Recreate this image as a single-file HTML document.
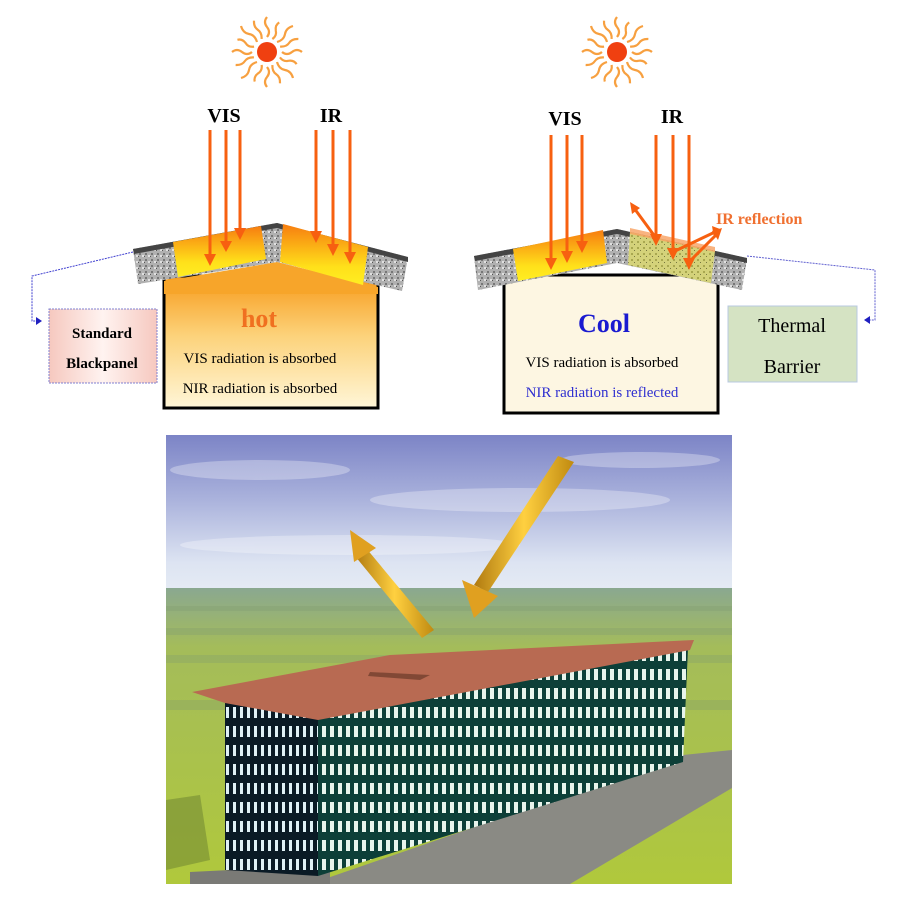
<!DOCTYPE html>
<html><head><meta charset="utf-8"><style>
html,body{margin:0;padding:0;background:#fff;}
svg{display:block;}
text{font-family:"Liberation Serif",serif;}
</style></head><body>
<svg width="900" height="900" viewBox="0 0 900 900" xmlns="http://www.w3.org/2000/svg">
<defs>
<linearGradient id="hotbox" x1="0" y1="0" x2="0" y2="1">
<stop offset="0" stop-color="#f79a1a"/><stop offset="0.45" stop-color="#fcd27a"/><stop offset="1" stop-color="#fff6d8"/></linearGradient>
<linearGradient id="panel" x1="0" y1="0" x2="0" y2="1">
<stop offset="0" stop-color="#f77d10"/><stop offset="0.7" stop-color="#ffe01a"/><stop offset="1" stop-color="#ffee22"/></linearGradient>
<linearGradient id="pink" x1="0" y1="0" x2="1" y2="0">
<stop offset="0" stop-color="#f6c8bf"/><stop offset="0.5" stop-color="#fff3f0"/><stop offset="1" stop-color="#f6c8bf"/></linearGradient>
<pattern id="grav" width="6" height="6" patternUnits="userSpaceOnUse">
<rect width="6" height="6" fill="#b0b0b0"/><rect x="1" y="1" width="2" height="2" fill="#777"/><rect x="4" y="3" width="2" height="2" fill="#e0e0e0"/><rect x="0" y="4" width="1" height="1" fill="#555"/></pattern>
<pattern id="grn" width="6" height="6" patternUnits="userSpaceOnUse">
<rect width="6" height="6" fill="#d4d27a"/><rect x="1" y="1" width="2" height="2" fill="#a9a850"/><rect x="4" y="4" width="1" height="1" fill="#777740"/></pattern>
<linearGradient id="sky" x1="0" y1="0" x2="0" y2="1">
<stop offset="0" stop-color="#7c84c6"/><stop offset="0.4" stop-color="#aab2dc"/><stop offset="0.8" stop-color="#dde4f2"/><stop offset="1" stop-color="#e6ecf4"/></linearGradient>
<linearGradient id="grass" x1="0" y1="0" x2="0" y2="1">
<stop offset="0" stop-color="#8aa890"/><stop offset="0.2" stop-color="#a4bc5a"/><stop offset="1" stop-color="#b0c83c"/></linearGradient>
<pattern id="win" width="8" height="19" patternUnits="userSpaceOnUse">
<rect width="8" height="19" fill="#0d3f38"/><rect x="2" y="4" width="4" height="11" fill="#e8f4ec"/></pattern>
<pattern id="win2" width="7" height="19" patternUnits="userSpaceOnUse">
<rect width="7" height="19" fill="#0a1a25"/><rect x="2" y="4" width="3" height="11" fill="#dff0f5"/></pattern>
<linearGradient id="gold" x1="0" y1="0" x2="1" y2="0">
<stop offset="0" stop-color="#b07a10"/><stop offset="0.5" stop-color="#ffd040"/><stop offset="1" stop-color="#c08a10"/></linearGradient>
<g id="rays" stroke="#f7a040" stroke-width="2.2" fill="none">
<path d="M0,-15 q4,-5 0,-10 q-4,-5 0,-10"/><path d="M0,15 q4,5 0,10 q-4,5 0,10"/>
<path d="M-15,0 q-5,4 -10,0 q-5,-4 -10,0"/><path d="M15,0 q5,4 10,0 q5,-4 10,0"/>
<path d="M10,-10 q7,-2 8,-8 q1,-6 8,-8"/><path d="M-10,10 q-7,2 -8,8 q-1,6 -8,8"/>
<path d="M-10,-10 q-2,-7 -8,-8 q-6,-1 -8,-8"/><path d="M10,10 q2,7 8,8 q6,1 8,8"/>
<g transform="rotate(22.5)">
<path d="M0,-14 q3,-5 0,-9 q-3,-5 0,-9"/><path d="M0,14 q3,5 0,9 q-3,5 0,9"/>
<path d="M-14,0 q-5,3 -9,0 q-5,-3 -9,0"/><path d="M14,0 q5,3 9,0 q5,-3 9,0"/>
<path d="M10,-10 q6,-2 7,-7 q1,-5 7,-7"/><path d="M-10,10 q-6,2 -7,7 q-1,5 -7,7"/>
<path d="M-10,-10 q-2,-6 -7,-7 q-5,-1 -7,-7"/><path d="M10,10 q2,6 7,7 q5,1 7,7"/>
</g></g>
</defs>

<g transform="translate(267,52)"><use href="#rays"/><circle r="10" fill="#f04010"/></g>
<g transform="translate(617,52)"><use href="#rays"/><circle r="10" fill="#f04010"/></g>

<!-- ===== left diagram ===== -->
<rect x="164" y="276" width="214" height="132" fill="url(#hotbox)" stroke="#000" stroke-width="3"/>
<polygon points="164,281 277,262 378,287 378,294 164,294" fill="#f7a52a"/>
<polygon points="133,249 277,223 277,262 138,284" fill="url(#grav)"/>
<polygon points="277,223 408,257 402,291 277,262" fill="url(#grav)"/>
<polygon points="133,249 277,223 277,228 134,254" fill="#444"/>
<polygon points="277,223 408,257 408,262 277,228" fill="#444"/>
<polygon points="173,242 261,226 266,259 178,277" fill="url(#panel)"/>
<polygon points="283,224 368,247 363,285 280,262" fill="url(#panel)"/>
<g stroke="#f76010" stroke-width="3">
<line x1="210" y1="130" x2="210" y2="258"/><line x1="226" y1="130" x2="226" y2="245"/><line x1="240" y1="130" x2="240" y2="232"/>
<line x1="316" y1="130" x2="316" y2="235"/><line x1="333" y1="130" x2="333" y2="248"/><line x1="350" y1="130" x2="350" y2="256"/>
</g>
<g fill="#f76010">
<polygon points="204,254 216,254 210,266"/><polygon points="220,241 232,241 226,252"/><polygon points="234,228 246,228 240,240"/>
<polygon points="310,231 322,231 316,243"/><polygon points="327,244 339,244 333,256"/><polygon points="344,252 356,252 350,264"/>
</g>
<text x="224" y="122" font-size="20" font-weight="bold" text-anchor="middle">VIS</text>
<text x="331" y="122" font-size="20" font-weight="bold" text-anchor="middle">IR</text>
<text x="259" y="327" font-size="26" font-weight="bold" fill="#f07020" text-anchor="middle">hot</text>
<text x="260" y="363" font-size="15" text-anchor="middle">VIS radiation is absorbed</text>
<text x="260" y="393" font-size="15" text-anchor="middle">NIR radiation is absorbed</text>
<polyline points="133,252 32,276 32,321 40,321" fill="none" stroke="#4040d0" stroke-width="1" stroke-dasharray="2,1"/>
<polygon points="36,317 42,321 36,325" fill="#2020c0"/>
<rect x="49" y="309" width="108" height="74" fill="url(#pink)" stroke="#8080d0" stroke-width="1" stroke-dasharray="2,1"/>
<text x="102" y="338" font-size="15" font-weight="bold" text-anchor="middle">Standard</text>
<text x="102" y="368" font-size="15" font-weight="bold" text-anchor="middle">Blackpanel</text>

<!-- ===== right diagram ===== -->
<rect x="504" y="275" width="214" height="138" fill="#fdf6e2" stroke="#000" stroke-width="3"/>
<polygon points="474,256 617,229 617,263 478,290" fill="url(#grav)"/>
<polygon points="617,229 747,258 742,290 617,263" fill="url(#grav)"/>
<polygon points="474,256 617,229 617,234 475,261" fill="#444"/>
<polygon points="617,229 747,258 747,263 617,234" fill="#444"/>
<polygon points="513,249 603,230 607,263 518,281" fill="url(#panel)"/>
<polygon points="630,232 715,251 711,283 628,265" fill="url(#grn)"/>
<polygon points="630,228 715,247 715,252 630,234" fill="#f7a060" opacity="0.8"/>
<g stroke="#f76010" stroke-width="3">
<line x1="551" y1="135" x2="551" y2="262"/><line x1="567" y1="135" x2="567" y2="255"/><line x1="582" y1="135" x2="582" y2="245"/>
<line x1="656" y1="135" x2="656" y2="238"/><line x1="673" y1="135" x2="673" y2="252"/><line x1="689" y1="135" x2="689" y2="262"/>
<line x1="656" y1="238" x2="634" y2="208"/><line x1="673" y1="252" x2="715" y2="232"/><line x1="689" y1="262" x2="718" y2="233"/>
</g>
<g fill="#f76010">
<polygon points="545,258 557,258 551,270"/><polygon points="561,251 573,251 567,263"/><polygon points="576,241 588,241 582,253"/>
<polygon points="650,234 662,234 656,246"/><polygon points="667,248 679,248 673,260"/><polygon points="683,258 695,258 689,270"/>
<polygon points="630,202 640,208 632,214"/><polygon points="720,229 712,226 714,238"/><polygon points="722,228 712,231 718,240"/>
</g>
<text x="565" y="125" font-size="20" font-weight="bold" text-anchor="middle">VIS</text>
<text x="672" y="123" font-size="20" font-weight="bold" text-anchor="middle">IR</text>
<text x="716" y="224" font-size="16" font-weight="bold" fill="#f07030">IR reflection</text>
<text x="604" y="332" font-size="26" font-weight="bold" fill="#1a1ad0" text-anchor="middle">Cool</text>
<text x="602" y="367" font-size="15" text-anchor="middle">VIS radiation is absorbed</text>
<text x="602" y="397" font-size="15" fill="#3030d0" text-anchor="middle">NIR radiation is reflected</text>
<polyline points="747,256 875,270 875,320 868,320" fill="none" stroke="#6060d0" stroke-width="1" stroke-dasharray="2,1"/>
<polygon points="870,316 864,320 870,324" fill="#2020c0"/>
<rect x="728" y="306" width="129" height="76" fill="#d5e3c3" stroke="#b8c8e0" stroke-width="1"/>
<text x="792" y="332" font-size="20" text-anchor="middle">Thermal</text>
<text x="792" y="373" font-size="20" text-anchor="middle">Barrier</text>

<!-- ===== photo ===== -->
<clipPath id="ph"><rect x="166" y="435" width="566" height="449"/></clipPath>
<g clip-path="url(#ph)">
<rect x="166" y="435" width="566" height="160" fill="url(#sky)"/>
<g fill="#fff" opacity="0.3">
<ellipse cx="260" cy="470" rx="90" ry="10"/><ellipse cx="520" cy="500" rx="150" ry="12"/><ellipse cx="350" cy="545" rx="170" ry="10"/><ellipse cx="640" cy="460" rx="80" ry="8"/>
</g>
<rect x="166" y="588" width="566" height="296" fill="url(#grass)"/>
<g fill="#7f9a70" opacity="0.3">
<rect x="166" y="606" width="566" height="5"/><rect x="166" y="628" width="566" height="7"/><rect x="166" y="655" width="566" height="8"/><rect x="166" y="700" width="566" height="10"/>
</g>
<polygon points="166,800 200,795 210,860 166,870" fill="#6a8030" opacity="0.5"/>
<polygon points="310,884 683,755 732,750 732,788 570,884" fill="#8a8a84"/>
<polygon points="190,872 330,865 330,884 190,884" fill="#7a7a76"/>
<!-- building -->
<polygon points="225,700 318,718 318,876 225,870" fill="url(#win2)"/>
<polygon points="318,718 688,648 683,762 318,876" fill="url(#win)"/>
<polygon points="192,692 390,655 694,640 690,650 318,720 225,703" fill="#b86a52"/>
<polygon points="370,672 430,675 420,680 368,676" fill="#6a3a2a" opacity="0.7"/>
<!-- arrows -->
<polygon points="558,456 574,462 488,592 474,585" fill="url(#gold)"/>
<polygon points="462,580 498,596 474,618" fill="#e0a020"/>
<polygon points="355,556 366,548 434,630 422,638" fill="url(#gold)"/>
<polygon points="350,530 376,548 354,562" fill="#e0a020"/>
</g>
</svg>
</body></html>
